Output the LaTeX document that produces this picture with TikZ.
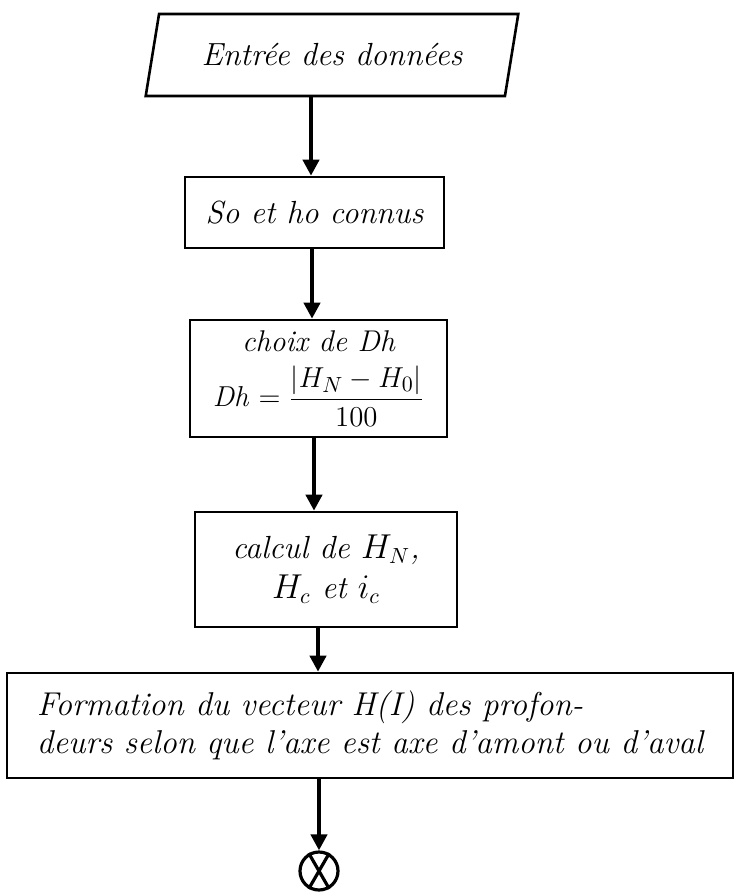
\documentclass[tikz,border=0pt]{standalone}
\usepackage{amsmath}
\usepackage{tikz}
\usetikzlibrary{shapes.geometric,arrows.meta}

\begin{document}
\begin{tikzpicture}[x=0.5pt,y=-0.5pt,
  box/.style={draw,line width=1.3pt,inner sep=0pt,align=center,
    font=\fontsize{16}{20}\selectfont\itshape},
  flow/.style={line width=2.4pt,-{Triangle[length=8pt,width=8pt]}}]
\useasboundingbox (0,0) rectangle (736,893);
% blocs
\node[box,trapezium,trapezium left angle=66,trapezium right angle=114,
  trapezium stretches=true,minimum width=186.5pt,minimum height=41pt] (input) at (332,55) {Entrée des données};
\node[box,minimum width=129.5pt,minimum height=35.5pt] (known) at (314.5,212.5) {So et ho connus};
\node[box,minimum width=128.5pt,minimum height=58.5pt,
  font=\fontsize{15}{18}\selectfont\itshape] (choice) at (318.5,378.5)
  {choix de Dh\\[6pt] $\mathit{Dh} = \dfrac{|H_N - H_0|}{100}$};
\node[box,minimum width=131pt,minimum height=57.5pt] (calc) at (326,569.5)
  {calcul de $H_N$,\\ $H_c$ et $i_c$};
\node[box,minimum width=363pt,minimum height=52.5pt,align=left,
  font=\fontsize{16.5}{19}\selectfont\itshape] (form) at (370,725.5)
  {Formation du vecteur H(I) des profon-\\deurs selon que l'axe est axe d'amont ou d'aval};
\node[draw,circle,line width=1.6pt,minimum size=19pt,inner sep=0pt] (stop) at (319,871) {};
\draw[line width=1.6pt] (stop.120) -- (stop.-60) (stop.60) -- (stop.-120);
% fleches
\draw[flow] (input.south -| 311,0) -- (known.north -| 311,0);
\draw[flow] (known.south -| 312,0) -- (choice.north -| 312,0);
\draw[flow] (choice.south -| 314,0) -- (calc.north -| 314,0);
\draw[flow] (calc.south -| 318,0) -- (form.north -| 318,0);
\draw[flow] (form.south -| 319,0) -- (stop.north);
\end{tikzpicture}
\end{document}
